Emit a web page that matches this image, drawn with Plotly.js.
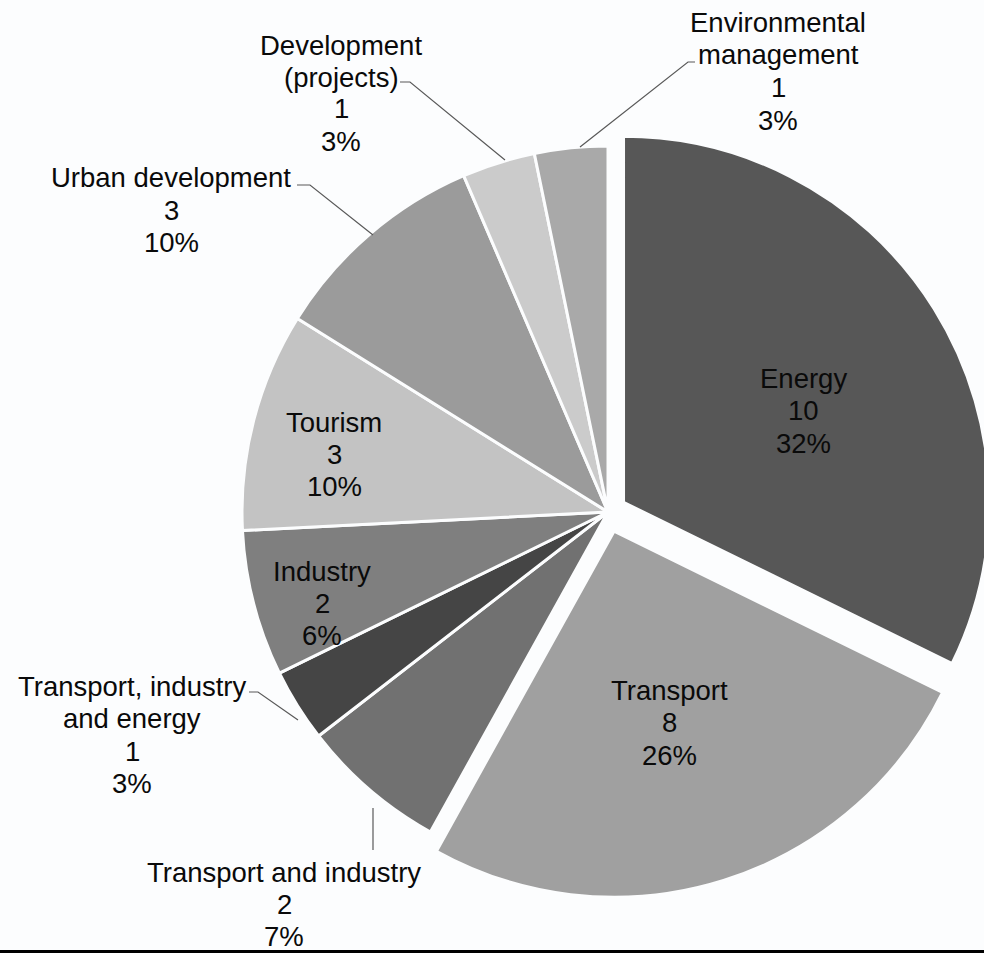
<!DOCTYPE html>
<html>
<head>
<meta charset="utf-8">
<script src="https://cdn.plot.ly/plotly-3.0.1.min.js"></script>
<style>
  html, body { margin: 0; padding: 0; overflow: hidden; background: #fcfdfe; }
  #chart { width: 1000px; height: 953px; }
</style>
</head>
<body>
<div id="chart"></div>
<script>
// ---- data ----
const categories = ["Energy", "Transport", "Transport and industry", "Transport, industry and energy",
  "Industry", "Tourism", "Urban development", "Development (projects)", "Environmental management"];
const counts = [10, 8, 2, 1, 2, 3, 3, 1, 1];
const percentLabels = ["32%", "26%", "7%", "3%", "6%", "10%", "10%", "3%", "3%"];
// how each category name is broken over lines in the labels
const nameLines = [["Energy"], ["Transport"], ["Transport and industry"], ["Transport, industry", "and energy"],
  ["Industry"], ["Tourism"], ["Urban development"], ["Development", "(projects)"], ["Environmental", "management"]];
const sliceColors = ["#575757", "#a0a0a0", "#717171", "#454545", "#7f7f7f", "#c3c3c3", "#9b9b9b", "#cbcbcb", "#a9a9a9"];
const slicePull = [0.05, 0.055, 0, 0, 0, 0, 0, 0, 0];

// ---- layout helpers (pixels -> paper) ----
const W = 1000, H = 953;
const px = x => x / W;
const py = y => 1 - y / H;

// label anchor: centre x, centre y of the first line, line gap (pixels)
const labelPos = [
  [803, 378, 32.5], [669, 690, 32.5], [284, 872, 32], [132, 686, 32.5],
  [322, 571, 32], [334, 422, 32.5], [171, 178, 32], [341, 45, 32], [778, 22, 33]
];
// leader lines (pixel polylines), null when the label sits inside its slice
const leaders = [
  null, null, [[373, 850], [373, 808]], [[249, 692], [258, 692], [298, 720]],
  null, null, [[297, 185], [310, 185], [373, 235]], [[400, 82], [410, 82], [505, 160]],
  [[695, 62], [688, 62], [580, 147]]
];

const font = { family: "Liberation Sans, Arial, sans-serif", size: 27.5, color: "#0a0a0a" };

const annotations = [];
categories.forEach((c, i) => {
  const lines = nameLines[i].concat([String(counts[i]), percentLabels[i]]);
  const [x, y0, gap] = labelPos[i];
  lines.forEach((t, k) => {
    annotations.push({
      xref: "paper", yref: "paper", x: px(x), y: py(y0 + k * gap),
      text: t, showarrow: false, xanchor: "center", yanchor: "middle", font: font
    });
  });
});

const shapes = [];
leaders.forEach(l => {
  if (!l) return;
  const d = l.map((p, k) => (k ? "L" : "M") + px(p[0]) + "," + py(p[1])).join(" ");
  shapes.push({ type: "path", xref: "paper", yref: "paper", path: d, line: { color: "#595959", width: 1.2 } });
});
// thin black rule along the bottom edge
shapes.push({ type: "rect", xref: "paper", yref: "paper", x0: 0, x1: 1, y0: 0, y1: 3 / H,
  fillcolor: "#000", line: { width: 0 }, layer: "above" });

// pie geometry: centre (608,512), radius 366
const maxPull = Math.max(...slicePull);
const cx = 608, cy = 512, r = 366;
const half = r * (1 + maxPull);
const trace = {
  type: "pie",
  labels: categories,
  values: counts,
  sort: false,
  direction: "clockwise",
  rotation: 0,
  pull: slicePull,
  textinfo: "none",
  hoverinfo: "none",
  marker: { colors: sliceColors, line: { color: "#fcfdfe", width: 3 } },
  domain: { x: [px(cx - half), px(cx + half)], y: [py(cy + half), py(cy - half)] }
};

const layout = {
  width: W, height: H,
  margin: { l: 0, r: 0, t: 0, b: 0 },
  paper_bgcolor: "#fcfdfe",
  showlegend: false,
  annotations: annotations,
  shapes: shapes
};

Plotly.newPlot("chart", [trace], layout, { staticPlot: true, displayModeBar: false });
</script>
</body>
</html>
